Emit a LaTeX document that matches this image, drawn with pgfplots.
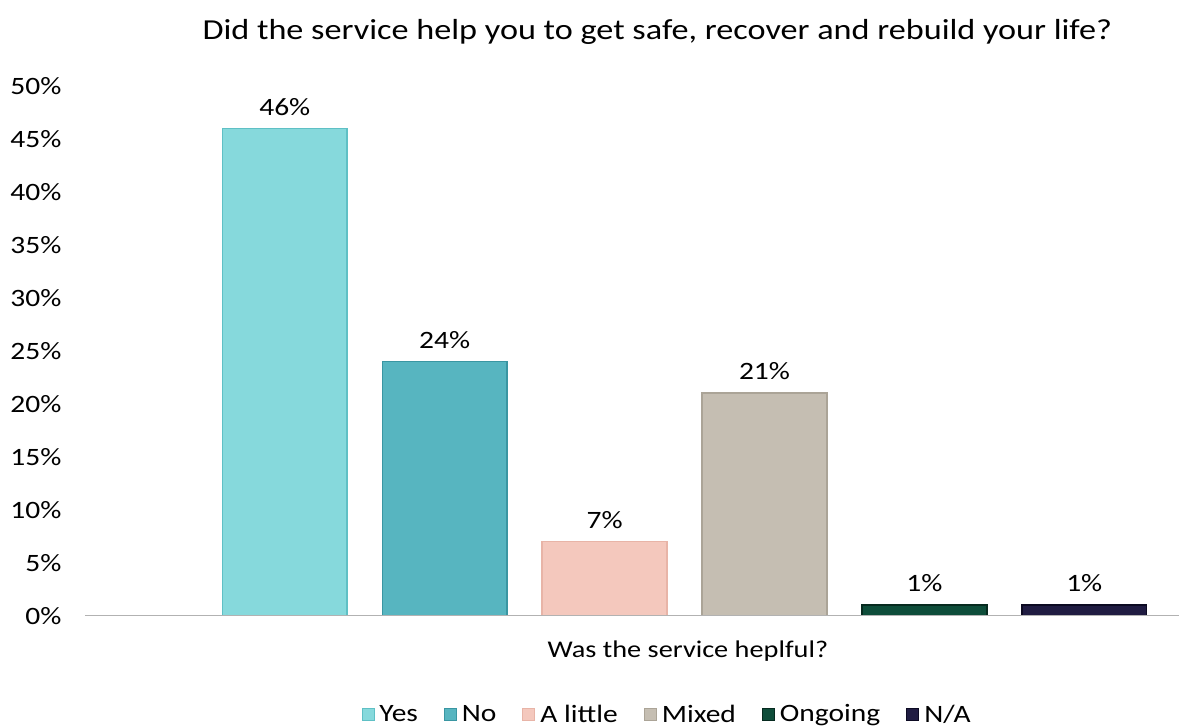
\documentclass[border=0pt]{standalone}
\usepackage{pgfplots}
\pgfplotsset{compat=1.18}
\usepackage{fontspec}
\setmainfont{Carlito}
\newfontfamily\wide[FakeStretch=1.18]{Carlito}
\definecolor{cYes}{HTML}{86D9DC}
\definecolor{eYes}{HTML}{5FC0C5}
\definecolor{cNo}{HTML}{57B5C0}
\definecolor{eNo}{HTML}{3A96A2}
\definecolor{cLit}{HTML}{F4C8BD}
\definecolor{eLit}{HTML}{E8B4A7}
\definecolor{cMix}{HTML}{C5BEB2}
\definecolor{eMix}{HTML}{ABA497}
\definecolor{cOn}{HTML}{0E4D3A}
\definecolor{eOn}{HTML}{062A1F}
\definecolor{cNA}{HTML}{201C42}
\definecolor{eNA}{HTML}{0C0A22}
\begin{document}
\begin{tikzpicture}
\begin{axis}[
  scale only axis, width=1095pt, height=530pt,
  xmin=-0.25, xmax=6.594, ymin=0, ymax=50,
  clip=false,
  ytick={0,5,...,50},
  yticklabel={\pgfmathprintnumber{\tick}\%},
  /pgf/number format/assume math mode=true,
  yticklabel style={font=\wide\fontsize{25}{30}\selectfont, xshift=-20pt},
  xtick=\empty,
  axis line style={draw=none},
  major tick style={draw=none},
  bar width=0.78,
  nodes near coords={\pgfmathprintnumber{\pgfplotspointmeta}\%},
  every node near coord/.append style={font=\wide\fontsize{25}{28}\selectfont, yshift=9pt},
  legend style={at={(0.532,-0.186)}, anchor=center, draw=none, legend columns=6,
    font=\wide\fontsize{25}{28}\selectfont, column sep=3pt,
    /tikz/every even column/.append style={column sep=24pt}},
  legend image code/.code={\draw[#1, line width=1pt] (0pt,-6pt) rectangle (12pt,6pt);},
]
\addplot[ybar, bar shift=0pt, fill=cYes, draw=eYes, line width=1.5pt] coordinates {(1,46)};
\addplot[ybar, bar shift=0pt, fill=cNo, draw=eNo, line width=1.5pt] coordinates {(2,24)};
\addplot[ybar, bar shift=0pt, fill=cLit, draw=eLit, line width=1.5pt] coordinates {(3,7)};
\addplot[ybar, bar shift=0pt, fill=cMix, draw=eMix, line width=1.5pt] coordinates {(4,21)};
\addplot[ybar, bar shift=0pt, fill=cOn, draw=eOn, line width=1.5pt] coordinates {(5,1)};
\addplot[ybar, bar shift=0pt, fill=cNA, draw=eNA, line width=1.5pt] coordinates {(6,1)};
\legend{Yes,No,A little,Mixed,Ongoing,N/A}
\draw[gray!60, line width=1.5pt] (axis cs:-0.25,0) -- (axis cs:6.594,0);
\node[font=\wide\fontsize{29}{32}\selectfont] at ([yshift=54pt]rel axis cs:0.523,1) {Did the service help you to get safe, recover and rebuild your life?};
\node[font=\wide\fontsize{24}{28}\selectfont] at ([yshift=-35pt]rel axis cs:0.551,0) {Was the service heplful?};
\end{axis}
\path ([xshift=-85pt,yshift=-110pt]current axis.south west);
\path ([yshift=86pt]current axis.north east);
\end{tikzpicture}
\end{document}
